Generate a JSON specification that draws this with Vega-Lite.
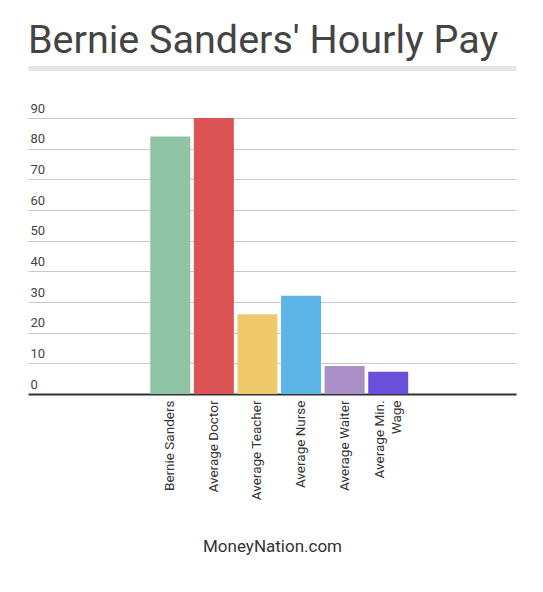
{
  "$schema": "https://vega.github.io/schema/vega-lite/v6.json",
  "width": 488,
  "height": 276,
  "autosize": {"type": "none"},
  "padding": {"left": 28, "top": 118, "right": 27, "bottom": 198},
  "background": "#ffffff",
  "title": {
    "text": "Bernie Sanders' Hourly Pay",
    "anchor": "start",
    "frame": "group",
    "font": "Roboto",
    "fontSize": 39.5,
    "fontWeight": "normal",
    "color": "#444444",
    "offset": 7
  },
  "data": {
    "values": [
      {"job": "Bernie Sanders", "pay": 84},
      {"job": "Average Doctor", "pay": 90},
      {"job": "Average Teacher", "pay": 26},
      {"job": "Average Nurse", "pay": 32},
      {"job": "Average Waiter", "pay": 9.1},
      {"job": "Average Min. Wage", "pay": 7.25}
    ]
  },
  "encoding": {
    "y": {
      "field": "pay",
      "type": "quantitative",
      "scale": {"domain": [0, 90], "nice": false},
      "axis": {
        "title": null,
        "values": [0, 10, 20, 30, 40, 50, 60, 70, 80, 90],
        "domain": false,
        "ticks": false,
        "tickSize": 0,
        "labelAlign": "left",
        "labelBaseline": "bottom",
        "labelPadding": -2,
        "labelOffset": -3,
        "labelFont": "Roboto",
        "labelFontSize": 13,
        "labelColor": "#444444",
        "gridColor": "#c8c8c8",
        "gridWidth": 1
      }
    },
    "color": {
      "field": "job",
      "type": "nominal",
      "legend": null,
      "scale": {
        "domain": ["Bernie Sanders", "Average Doctor", "Average Teacher", "Average Nurse", "Average Waiter", "Average Min. Wage"],
        "range": ["#8fc3a5", "#dc5354", "#efc96b", "#5db4e6", "#ab8fc7", "#6a4fdb"]
      }
    }
  },
  "layer": [
    {
      "mark": {"type": "bar", "opacity": 0},
      "encoding": {
        "x": {
          "field": "job",
          "type": "nominal",
          "sort": null,
          "scale": {
            "domain": [" ", "  ", "Bernie Sanders", "Average Doctor", "Average Teacher", "Average Nurse", "Average Waiter", "Average Min. Wage", "   ", "    "],
            "paddingInner": 0.083,
            "paddingOuter": 0.64,
            "align": 0.63
          },
          "axis": {
            "orient": "top",
            "title": null,
            "labels": false,
            "ticks": false,
            "grid": false,
            "offset": 50,
            "domainColor": "#e6e6e6",
            "domainWidth": 5
          }
        }
      }
    },
    {
      "mark": {"type": "bar"},
      "encoding": {
        "x": {
          "field": "job",
          "type": "nominal",
          "sort": null,
          "scale": {
            "domain": [" ", "  ", "Bernie Sanders", "Average Doctor", "Average Teacher", "Average Nurse", "Average Waiter", "Average Min. Wage", "   ", "    "],
            "paddingInner": 0.083,
            "paddingOuter": 0.64,
            "align": 0.63
          },
          "axis": {
            "orient": "bottom",
            "title": "MoneyNation.com",
            "titleFont": "Roboto",
            "titleFontSize": 17,
            "titleFontWeight": "normal",
            "titleColor": "#333333",
            "titlePadding": 39,
            "labelAngle": -90,
            "labelFont": "Roboto",
            "labelFontSize": 13.5,
            "labelColor": "#333333",
            "labelPadding": 6,
            "labelLimit": 200,
            "labelLineHeight": 17,
            "labelOffset": {"condition": {"test": "datum.value == 'Average Min. Wage'", "value": -8}, "value": 0},
            "labelExpr": "datum.label == 'Average Min. Wage' ? ['Average Min.', 'Wage'] : datum.label",
            "ticks": false,
            "grid": false,
            "domainColor": "#333333",
            "domainWidth": 2
          }
        }
      }
    }
  ],
  "resolve": {"axis": {"x": "independent"}},
  "config": {
    "view": {"stroke": null},
    "font": "Roboto"
  }
}
